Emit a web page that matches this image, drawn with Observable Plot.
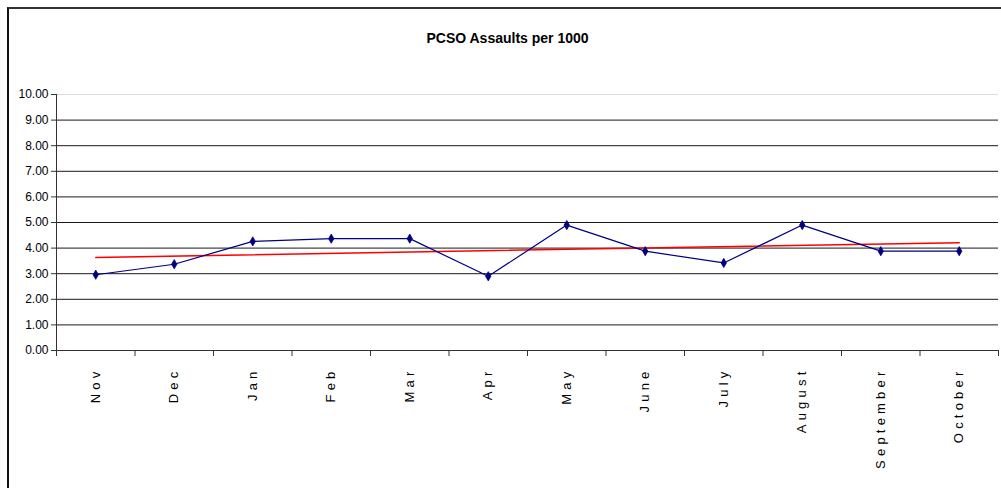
<!DOCTYPE html>
<html>
<head>
<meta charset="utf-8">
<script src="https://cdn.jsdelivr.net/npm/d3@7"></script>
<script src="https://cdn.jsdelivr.net/npm/@observablehq/plot@0.6"></script>
<style>
  html, body { margin: 0; padding: 0; background: #fff; }
  #wrap { position: relative; width: 1001px; height: 488px; overflow: hidden; }
  #frame { position: absolute; left: 7px; top: 7px; width: 1100px; height: 600px;
           border-left: 2px solid #111; border-top: 2px solid #333; box-sizing: border-box; pointer-events: none; }
  svg { display: block; }
</style>
</head>
<body>
<div id="wrap"><div id="frame"></div></div>
<script>
const title = "PCSO Assaults per 1000";
const months = ["Nov", "Dec", "Jan", "Feb", "Mar", "Apr", "May", "June", "July", "August", "September", "October"];
const assaults = [2.96, 3.37, 4.26, 4.37, 4.37, 2.90, 4.90, 3.88, 3.42, 4.90, 3.88, 3.88];
const yTicks = [0, 1, 2, 3, 4, 5, 6, 7, 8, 9, 10];

const data = months.map((m, i) => ({month: m, pos: i + 0.5, value: assaults[i]}));
const boundaries = d3.range(0, months.length + 1);
const font = "'Liberation Sans', Arial, sans-serif";

const chart = Plot.plot({
  width: 1001,
  height: 488,
  marginLeft: 56,
  marginRight: 3,
  marginTop: 94,
  marginBottom: 138,
  style: {fontFamily: font, background: "transparent", overflow: "visible"},
  x: {type: "linear", domain: [0, months.length], axis: null},
  y: {type: "linear", domain: [0, 10], axis: null},
  marks: [
    // gridlines
    Plot.ruleY(yTicks.filter(d => d > 0 && d < 10), {stroke: "#1a1a1a", strokeWidth: 1}),
    Plot.ruleY([10], {stroke: "#dcdcdc", strokeWidth: 1}),
    // y axis
    Plot.ruleX([0], {stroke: "#333", strokeWidth: 1}),
    Plot.ruleY(yTicks, {x1: 0, x2: 0, insetLeft: -5, stroke: "#333", strokeWidth: 1}),
    Plot.text(yTicks, {x: 0, y: d => d, text: d => d.toFixed(2), textAnchor: "end", dx: -8, fontSize: 12, fill: "#000"}),
    // x axis
    Plot.ruleY([0], {stroke: "#333", strokeWidth: 1.2}),
    Plot.ruleX(boundaries, {x: d => d, y1: 0, y2: 0, insetBottom: -6, stroke: "#333", strokeWidth: 1}),
    Plot.text(data, {x: "pos", y: 0, text: "month", rotate: -90, textAnchor: "end", dy: 17, fontSize: 13, fill: "#000",
      lineAnchor: "middle"}),
    // trend line
    Plot.linearRegressionY(data, {x: "pos", y: "value", stroke: "#ff0000", strokeWidth: 1.5, ci: 0}),
    // series
    Plot.line(data, {x: "pos", y: "value", stroke: "#000080", strokeWidth: 1.2}),
    Plot.dot(data, {x: "pos", y: "value", symbol: "diamond", r: 2.8, fill: "#000080", stroke: "#000080", strokeWidth: 0.8}),
    // title
    Plot.text([title], {frameAnchor: "top", dy: -57, fontSize: 14, fontWeight: "bold", fill: "#000", dx: -20, dy: -61})
  ]
});

chart.querySelectorAll("text").forEach(t => {
  const tr = t.getAttribute("transform") || "";
  if (tr.includes("rotate")) t.setAttribute("letter-spacing", "4.2");
});
document.getElementById("wrap").prepend(chart);
</script>
</body>
</html>
